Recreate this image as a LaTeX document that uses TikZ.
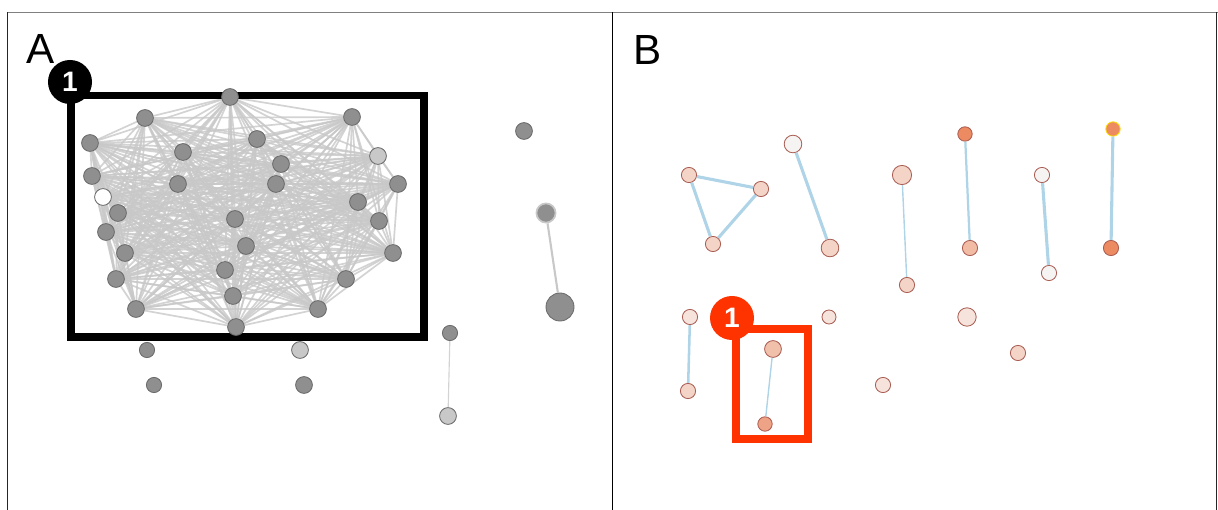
\documentclass[tikz,border=0pt]{standalone}
\usepackage{fontspec}
\setmainfont{Liberation Sans}
\usepackage{tikz}

\definecolor{nodegray}{HTML}{8F8F8F}
\definecolor{nodeline}{HTML}{6A6A6A}
\definecolor{nodelight}{HTML}{C8C8C8}
\definecolor{edgegray}{HTML}{C8C8C8}
\definecolor{edgeblue}{HTML}{AFD4E7}
\definecolor{rimred}{HTML}{A95C52}
\definecolor{pale}{HTML}{F6E3DC}
\definecolor{pinkish}{HTML}{F3D4C7}
\definecolor{peach}{HTML}{F1BBA4}
\definecolor{salmon}{HTML}{EFA386}
\definecolor{coral}{HTML}{EC8A62}
\definecolor{offwhite}{HTML}{F6F4F3}
\definecolor{boxred}{HTML}{FF3300}

\pgfdeclarelayer{edges}
\pgfsetlayers{edges,main}

\begin{document}
\begin{tikzpicture}[x={(0.025cm,0cm)}, y={(0cm,-0.025cm)},
        gnode/.style={circle, draw=nodeline, fill=nodegray, line width=0.6pt,
            minimum size=0.42cm, inner sep=0pt},
        pnode/.style={circle, draw=rimred, fill=pinkish, line width=0.6pt,
            minimum size=0.38cm, inner sep=0pt},
        gedge/.style={edgegray, line width=1.2pt, opacity=0.8},
        bedge/.style={edgeblue, line width=2.2pt},
        thinedge/.style={edgeblue, line width=1pt},
        badge/.style={circle, minimum size=1.1cm, inner sep=0pt, text=white,
            font=\bfseries\fontsize{20}{20}\selectfont},
        panel/.style={font=\fontsize{30}{30}\selectfont}]
    \useasboundingbox (0,0) rectangle (1218,510);

    % frame of the two panels
    \draw[gray, line width=0.9pt] (7,12.5) -- (1218,12.5);
    \draw[black!85, line width=0.6pt] (7.3,12.5) -- (7.3,510);
    \draw[black, line width=0.6pt] (612.3,12.5) -- (612.3,510);
    \draw[black!85, line width=0.6pt] (1216,12.5) -- (1216,510);

    % panel A
    \node[panel] (labA) at (41,49) {A};
    \draw[line width=0.19cm] (71,95.5) rectangle (424,337);
    \node[badge, fill=black] (badgeA) at (70,82) {1};

    \foreach \x/\y/\c [count=\i] in {230/97/nodegray, 145/118/nodegray,
            352/117/nodegray, 90/143/nodegray, 257/139/nodegray,
            183/152/nodegray, 378/156/nodelight, 281/164/nodegray,
            92/176/nodegray, 178/184/nodegray, 276/184/nodegray,
            398/184/nodegray, 103/197/white, 358/202/nodegray,
            118/213/nodegray, 235/219/nodegray, 379/221/nodegray,
            106/232/nodegray, 246/246/nodegray, 125/253/nodegray,
            393/253/nodegray, 225/270/nodegray, 116/279/nodegray,
            346/279/nodegray, 233/296/nodegray, 136/309/nodegray,
            318/309/nodegray, 236/327/nodegray}
        \node[gnode, fill=\c] (a\i) at (\x,\y) {};

    \begin{pgfonlayer}{edges}
        \foreach \i [evaluate=\i as \k using int(\i+1)] in {1,...,27}
            \foreach \j in {\k,...,28}
                \draw[gedge] (a\i) -- (a\j);
    \end{pgfonlayer}

    % nodes outside the box
    \node[gnode] (s1) at (524,131) {};
    \node[gnode, draw=nodelight, line width=1.2pt, minimum size=0.48cm] (s2) at (546,213) {};
    \node[gnode, minimum size=0.7cm] (s3) at (560,307) {};
    \node[gnode, minimum size=0.38cm] (s4) at (147,350) {};
    \node[gnode, fill=nodelight] (s5) at (300,350) {};
    \node[gnode, minimum size=0.38cm] (s6) at (154,385) {};
    \node[gnode] (s7) at (304,385) {};
    \node[gnode, minimum size=0.38cm] (s8) at (450,333) {};
    \node[gnode, fill=nodelight] (s9) at (448,416) {};
    \draw[nodelight, line width=1.5pt] (s2) -- (s3);
    \draw[edgegray!80, line width=0.8pt] (s8) -- (s9);

    % panel B
    \node[panel] (labB) at (648,50) {B};
    \draw[boxred, line width=0.19cm] (736,329) rectangle (808,439);
    \node[badge, fill=boxred] (badgeB) at (732,318) {1};

    \node[pnode] (b1) at (689,175) {};
    \node[pnode] (b2) at (761,189) {};
    \node[pnode] (b3) at (713,244) {};
    \node[pnode, fill=offwhite, minimum size=0.44cm] (b4) at (793,144) {};
    \node[pnode, minimum size=0.44cm] (b5) at (830,248) {};
    \node[pnode, minimum size=0.48cm] (b6) at (902,175) {};
    \node[pnode] (b7) at (907,285) {};
    \node[pnode, fill=coral, minimum size=0.36cm] (b8) at (965,134) {};
    \node[pnode, fill=peach] (b9) at (970,248) {};
    \node[pnode, fill=offwhite] (b10) at (1042,175) {};
    \node[pnode, fill=offwhite] (b11) at (1049,273) {};
    \node[pnode, fill=coral, draw=yellow!80!orange, minimum size=0.36cm] (b12) at (1113,129) {};
    \node[pnode, fill=coral] (b13) at (1111,248) {};
    \node[pnode, fill=pale] (b14) at (690,317) {};
    \node[pnode] (b15) at (688,391) {};
    \node[pnode, fill=peach!80!pinkish, minimum size=0.42cm] (b16) at (773,349) {};
    \node[pnode, fill=salmon, minimum size=0.36cm] (b17) at (765,424) {};
    \node[pnode, fill=pale, minimum size=0.35cm] (b18) at (829,317) {};
    \node[pnode, fill=pale, minimum size=0.46cm] (b19) at (967,317) {};
    \node[pnode] (b20) at (1018,353) {};
    \node[pnode, fill=pale] (b21) at (883,385) {};

    \draw[bedge] (b1) -- (b2) -- (b3) -- (b1);
    \draw[bedge] (b4) -- (b5);
    \draw[thinedge] (b6) -- (b7);
    \draw[bedge, line width=1.6pt] (b8) -- (b9);
    \draw[bedge] (b10) -- (b11);
    \draw[bedge] (b12) -- (b13);
    \draw[bedge, line width=1.8pt] (b14) -- (b15);
    \draw[thinedge] (b16) -- (b17);
\end{tikzpicture}
\end{document}
